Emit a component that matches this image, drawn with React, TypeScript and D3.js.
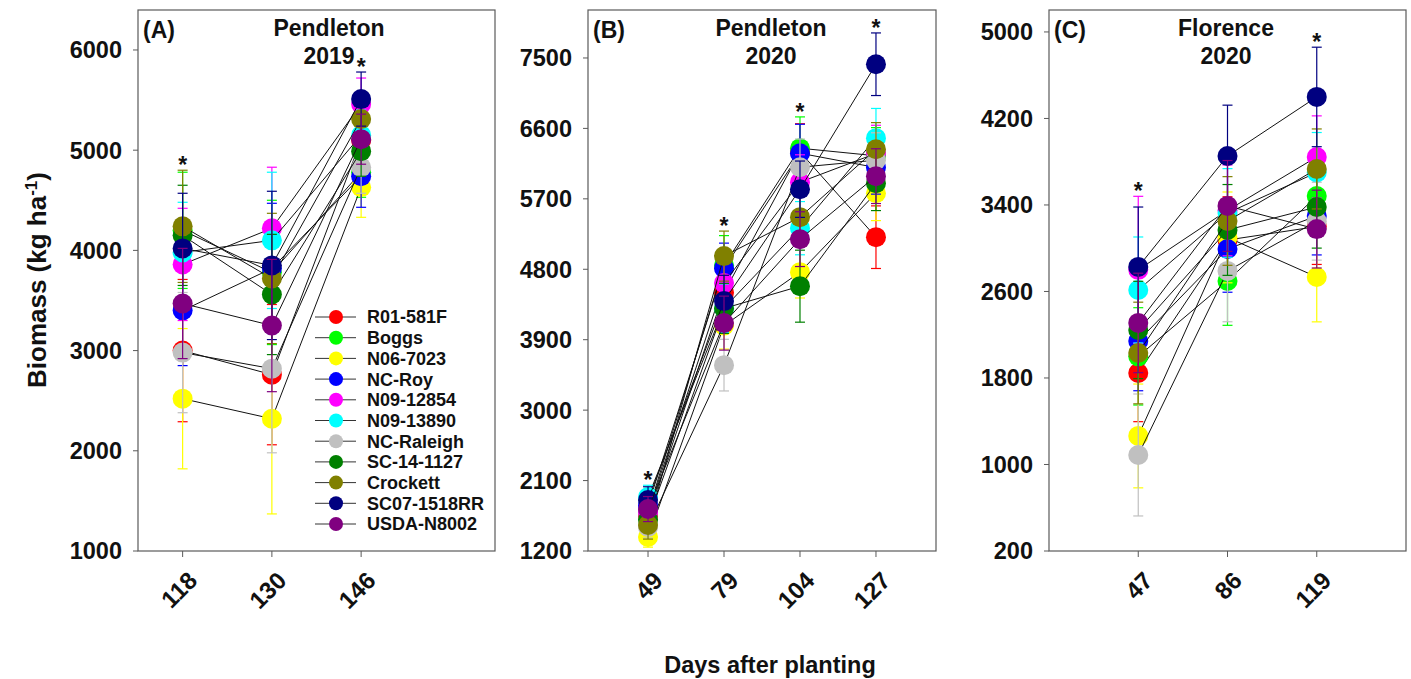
import React from "react";
import * as d3 from "d3";

// Genotypes, in legend order, with their symbol colours
const GENOTYPES = [
  "R01-581F",
  "Boggs",
  "N06-7023",
  "NC-Roy",
  "N09-12854",
  "N09-13890",
  "NC-Raleigh",
  "SC-14-1127",
  "Crockett",
  "SC07-1518RR",
  "USDA-N8002",
];
const COLORS = [
  "#ff0000",
  "#00ff00",
  "#ffff00",
  "#0000ff",
  "#ff00ff",
  "#00ffff",
  "#c0c0c0",
  "#008000",
  "#808000",
  "#000080",
  "#800080",
];

// (A) Pendleton 2019 — biomass (kg ha-1) by days after planting
const DAYS_A = [118, 130, 146];
const BIOMASS_A = [
  [3000, 2760, 5100],
  [4200, 3780, 4780],
  [2520, 2320, 4630],
  [3400, 3820, 4740],
  [3860, 4220, 5460],
  [3980, 4100, 5150],
  [2980, 2820, 4830],
  [4150, 3560, 4990],
  [4240, 3720, 5310],
  [4020, 3850, 5510],
  [3470, 3250, 5110],
];
const ERR_A = [
  [710, 700, 260],
  [580, 720, 250],
  [700, 950, 300],
  [550, 650, 310],
  [560, 610, 260],
  [500, 680, 250],
  [600, 840, 260],
  [500, 600, 250],
  [560, 650, 250],
  [550, 740, 270],
  [550, 660, 250],
];
const STARS_A = [true, false, true];
const YTICKS_A = [1000, 2000, 3000, 4000, 5000, 6000];

// (B) Pendleton 2020
const DAYS_B = [49, 79, 104, 127];
const BIOMASS_B = [
  [1650, 4500, 6300, 5210],
  [1700, 4850, 6347, 6250],
  [1379, 4080, 4763, 5772],
  [1780, 4814, 6283, 6100],
  [1690, 4623, 5913, 6280],
  [1890, 4303, 5325, 6475],
  [1506, 3575, 6104, 6194],
  [1600, 4300, 4584, 5900],
  [1532, 4968, 5466, 6334],
  [1851, 4393, 5823, 7420],
  [1736, 4112, 5185, 5990],
];
const ERR_B = [
  [150, 330, 360, 400],
  [170, 380, 400, 360],
  [130, 300, 330, 350],
  [160, 320, 370, 340],
  [150, 330, 350, 360],
  [150, 310, 340, 380],
  [140, 330, 360, 350],
  [150, 320, 460, 350],
  [180, 320, 350, 340],
  [170, 330, 360, 400],
  [160, 345, 350, 350],
];
const STARS_B = [true, true, true, true];
const YTICKS_B = [1200, 2100, 3000, 3900, 4800, 5700, 6600, 7500];

// (C) Florence 2020
const DAYS_C = [47, 86, 119];
const BIOMASS_C = [
  [1846, 3076, 3200],
  [2000, 2697, 3483],
  [1264, 3100, 2734],
  [2142, 2993, 3298],
  [2800, 3350, 3844],
  [2614, 3326, 3700],
  [1088, 2790, 3250],
  [2244, 3169, 3381],
  [2031, 3252, 3733],
  [2827, 3853, 4399],
  [2309, 3391, 3177],
];
const ERR_C = [
  [450, 400, 350],
  [450, 410, 380],
  [480, 420, 415],
  [460, 400, 360],
  [680, 420, 380],
  [490, 410, 370],
  [564, 470, 360],
  [450, 420, 380],
  [470, 410, 370],
  [554, 470, 460],
  [460, 420, 360],
];
const STARS_C = [true, false, true];
const YTICKS_C = [200, 1000, 1800, 2600, 3400, 4200, 5000];

const FONT = "'Liberation Sans', Arial, Helvetica, sans-serif";
const TOP = 10;
const BOTTOM = 551;
const FRAME = "#5a5a5a";

type PanelSpec = {
  letter: string;
  title: string[];
  titleX: number;
  left: number;
  right: number;
  xDomain: [number, number];
  yDomain: [number, number];
  days: number[];
  values: number[][];
  errs: number[][];
  stars: boolean[];
  yTicks: number[];
  legend?: boolean;
};

const PANELS: PanelSpec[] = [
  {
    letter: "(A)",
    title: ["Pendleton", "2019"],
    titleX: 329,
    left: 138,
    right: 495,
    xDomain: [-0.5, 3.5],
    yDomain: [1000, 6399],
    days: DAYS_A,
    values: BIOMASS_A,
    errs: ERR_A,
    stars: STARS_A,
    yTicks: YTICKS_A,
    legend: true,
  },
  {
    letter: "(B)",
    title: ["Pendleton", "2020"],
    titleX: 771,
    left: 588,
    right: 936,
    xDomain: [-0.79, 3.79],
    yDomain: [1200, 8113],
    days: DAYS_B,
    values: BIOMASS_B,
    errs: ERR_B,
    stars: STARS_B,
    yTicks: YTICKS_B,
  },
  {
    letter: "(C)",
    title: ["Florence", "2020"],
    titleX: 1226,
    left: 1049,
    right: 1406,
    xDomain: [-1, 3],
    yDomain: [200, 5203],
    days: DAYS_C,
    values: BIOMASS_C,
    errs: ERR_C,
    stars: STARS_C,
    yTicks: YTICKS_C,
  },
];

function Legend() {
  const rowY = d3.scaleLinear().domain([0, GENOTYPES.length - 1]).range([317, 524]);
  return (
    <g>
      {GENOTYPES.map((g, i) => (
        <g key={g} transform={`translate(0,${rowY(i)})`}>
          <line x1={315} x2={356} y1={0} y2={0} stroke="#333" strokeWidth={1} />
          <circle cx={336} cy={0} r={7} fill={COLORS[i]} />
          <text
            x={367}
            y={0}
            dy="0.36em"
            fontFamily={FONT}
            fontWeight="bold"
            fontSize={18}
            fill="#111"
          >
            {g}
          </text>
        </g>
      ))}
    </g>
  );
}

function Panel({ p }: { p: PanelSpec }) {
  const x = d3.scaleLinear().domain(p.xDomain).range([p.left, p.right]);
  const y = d3.scaleLinear().domain(p.yDomain).range([BOTTOM, TOP]);
  const line = d3
    .line<number>()
    .x((_, i) => x(i))
    .y((v) => y(v));
  const capW = 5;

  return (
    <g>
      {/* frame */}
      <rect
        x={p.left}
        y={TOP}
        width={p.right - p.left}
        height={BOTTOM - TOP}
        fill="none"
        stroke={FRAME}
        strokeWidth={1.2}
      />
      {/* y axis */}
      {p.yTicks.map((t) => (
        <g key={t}>
          <line x1={p.left - 5} x2={p.left} y1={y(t)} y2={y(t)} stroke={FRAME} />
          <text
            x={p.left - 16}
            y={y(t)}
            dy="0.36em"
            textAnchor="end"
            fontFamily={FONT}
            fontWeight="bold"
            fontSize={23.5}
            fill="#111"
          >
            {t}
          </text>
        </g>
      ))}
      {/* x axis */}
      {p.days.map((d, i) => (
        <g key={d}>
          <line x1={x(i)} x2={x(i)} y1={BOTTOM} y2={BOTTOM + 6} stroke={FRAME} />
          <text
            transform={`translate(${x(i) + 4},${BOTTOM + 19}) rotate(-45)`}
            dy="0.71em"
            textAnchor="end"
            fontFamily={FONT}
            fontWeight="bold"
            fontSize={24}
            fill="#111"
          >
            {d}
          </text>
        </g>
      ))}
      {/* series: connecting line, error bars, symbols */}
      {p.values.map((vals, s) => (
        <g key={s}>
          <path d={line(vals) || ""} fill="none" stroke="#111" strokeWidth={1} />
          {vals.map((v, i) => {
            const e = p.errs[s][i];
            return (
              <g key={i} stroke={COLORS[s]} strokeWidth={1.2}>
                <line x1={x(i)} x2={x(i)} y1={y(v - e)} y2={y(v + e)} />
                <line x1={x(i) - capW} x2={x(i) + capW} y1={y(v + e)} y2={y(v + e)} />
                <line x1={x(i) - capW} x2={x(i) + capW} y1={y(v - e)} y2={y(v - e)} />
              </g>
            );
          })}
          {vals.map((v, i) => (
            <circle key={`c${i}`} cx={x(i)} cy={y(v)} r={10} fill={COLORS[s]} />
          ))}
        </g>
      ))}
      {/* significance markers above the highest error bar */}
      {p.days.map((_, i) => {
        if (!p.stars[i]) return null;
        const top = d3.max(p.values, (vals, s) => vals[i] + p.errs[s][i]) as number;
        return (
          <text
            key={`s${i}`}
            x={x(i)}
            y={y(top) + 3}
            textAnchor="middle"
            fontFamily={FONT}
            fontWeight="bold"
            fontSize={23}
            fill="#111"
          >
            *
          </text>
        );
      })}
      {/* panel letter and title */}
      <text
        x={p.left + 5}
        y={38}
        fontFamily={FONT}
        fontWeight="bold"
        fontSize={23}
        fill="#111"
      >
        {p.letter}
      </text>
      {p.title.map((t, k) => (
        <text
          key={t + k}
          x={p.titleX}
          y={36 + k * 28}
          textAnchor="middle"
          fontFamily={FONT}
          fontWeight="bold"
          fontSize={23}
          fill="#111"
        >
          {t}
        </text>
      ))}
      {p.legend ? <Legend /> : null}
    </g>
  );
}

export default function App() {
  return (
    <div style={{ position: "fixed", left: 0, top: 0 }}>
      <svg width={1411} height={679} style={{ display: "block", background: "#fff" }}>
        {PANELS.map((p) => (
          <Panel key={p.letter} p={p} />
        ))}
        <text
          transform="translate(46,280) rotate(-90)"
          textAnchor="middle"
          fontFamily={FONT}
          fontWeight="bold"
          fontSize={26}
          fill="#111"
        >
          Biomass (kg ha
          <tspan dy={-9} fontSize={17}>
            -1
          </tspan>
          <tspan dy={9}>)</tspan>
        </text>
        <text
          x={770}
          y={673}
          textAnchor="middle"
          fontFamily={FONT}
          fontWeight="bold"
          fontSize={23.5}
          fill="#111"
        >
          Days after planting
        </text>
      </svg>
    </div>
  );
}
